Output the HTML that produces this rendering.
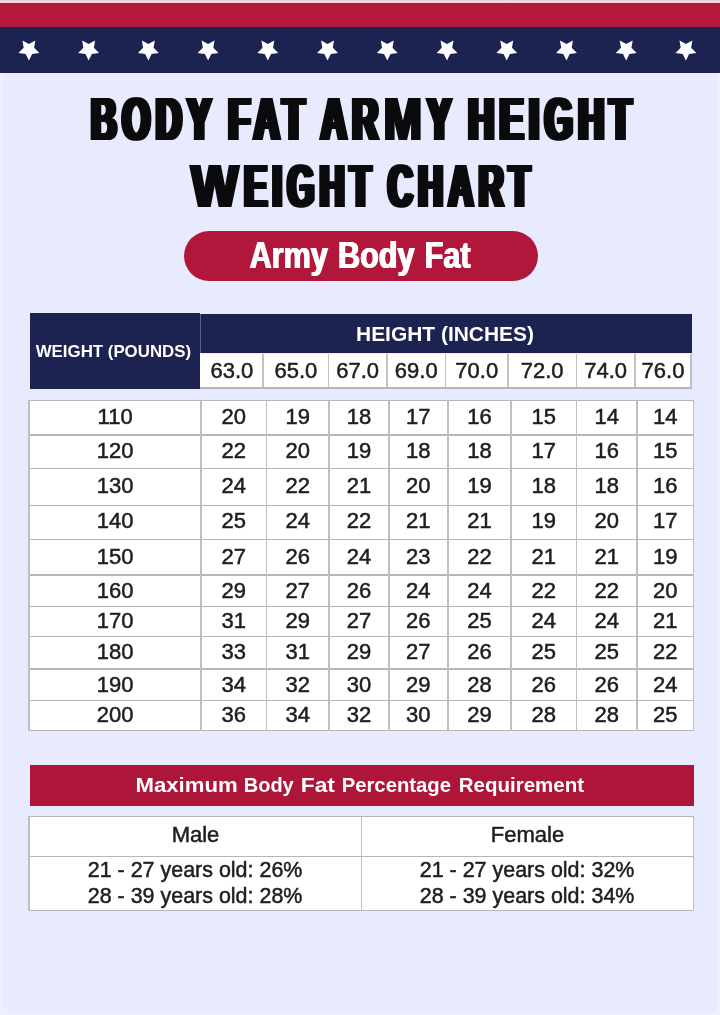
<!DOCTYPE html>
<html lang="en"><head><meta charset="utf-8"><title>Body Fat Army Height Weight Chart</title>
<style>
html,body{margin:0;padding:0}
body{width:720px;height:1015px;position:relative;overflow:hidden;background:#e8ebfe;font-family:"Liberation Sans",Arial,sans-serif;color:#222}
.abs{position:absolute}
.t{position:absolute;white-space:nowrap;line-height:1;text-align:center}
.title{position:absolute;white-space:nowrap;font-weight:bold;color:#0b0b0d;font-size:62px;line-height:1;transform-origin:0 0;letter-spacing:10px;word-spacing:-6px;text-shadow:5px 0 0 #0b0b0d,-5px 0 0 #0b0b0d,2.5px 0 0 #0b0b0d,-2.5px 0 0 #0b0b0d}
.title b{display:inline-block;font-weight:bold;transform-origin:50% 50%;text-shadow:2.6px 0 0 #0b0b0d,-2.6px 0 0 #0b0b0d,1.3px 0 0 #0b0b0d,-1.3px 0 0 #0b0b0d}
.sx{display:inline-block;transform-origin:50% 50%}
.num{font-size:22px;color:#1e1e1e;-webkit-text-stroke:0.5px #1e1e1e}
.line{position:absolute;background:#a6a6ab}
</style></head><body>

<div class="abs" style="left:0;top:73px;width:9px;height:942px;background:linear-gradient(90deg,#eef0ff 0,#eef0ff 2.5px,#eaedff 2.5px,#e9ecfe 9px)"></div>
<div class="abs" style="left:716.5px;top:73px;width:3.5px;height:942px;background:#eef0ff"></div>
<div class="abs" style="left:0;top:1010.5px;width:720px;height:4.5px;background:#edefff"></div>
<div class="abs" style="left:0;top:0;width:720px;height:3px;background:#f4d3dc"></div>
<div class="abs" style="left:0;top:3px;width:720px;height:24px;background:linear-gradient(#a81a39,#b7193d 30%,#bb183f 70%,#ab1b40)"></div>
<div class="abs" style="left:0;top:27px;width:720px;height:46px;background:#1d2351"></div>
<svg class="abs" style="left:0;top:0" width="720" height="80" viewBox="0 0 720 80"><g fill="#fff"><polygon points="28.90,60.50 25.67,53.95 18.44,52.90 23.67,47.80 22.43,40.60 28.90,44.00 35.37,40.60 34.13,47.80 39.36,52.90 32.13,53.95"/><polygon points="88.63,60.50 85.40,53.95 78.17,52.90 83.40,47.80 82.16,40.60 88.63,44.00 95.10,40.60 93.86,47.80 99.09,52.90 91.86,53.95"/><polygon points="148.36,60.50 145.13,53.95 137.90,52.90 143.13,47.80 141.89,40.60 148.36,44.00 154.83,40.60 153.59,47.80 158.82,52.90 151.59,53.95"/><polygon points="208.09,60.50 204.86,53.95 197.63,52.90 202.86,47.80 201.62,40.60 208.09,44.00 214.56,40.60 213.32,47.80 218.55,52.90 211.32,53.95"/><polygon points="267.82,60.50 264.59,53.95 257.36,52.90 262.59,47.80 261.35,40.60 267.82,44.00 274.29,40.60 273.05,47.80 278.28,52.90 271.05,53.95"/><polygon points="327.55,60.50 324.32,53.95 317.09,52.90 322.32,47.80 321.08,40.60 327.55,44.00 334.02,40.60 332.78,47.80 338.01,52.90 330.78,53.95"/><polygon points="387.28,60.50 384.05,53.95 376.82,52.90 382.05,47.80 380.81,40.60 387.28,44.00 393.75,40.60 392.51,47.80 397.74,52.90 390.51,53.95"/><polygon points="447.01,60.50 443.78,53.95 436.55,52.90 441.78,47.80 440.54,40.60 447.01,44.00 453.48,40.60 452.24,47.80 457.47,52.90 450.24,53.95"/><polygon points="506.74,60.50 503.51,53.95 496.28,52.90 501.51,47.80 500.27,40.60 506.74,44.00 513.21,40.60 511.97,47.80 517.20,52.90 509.97,53.95"/><polygon points="566.47,60.50 563.24,53.95 556.01,52.90 561.24,47.80 560.00,40.60 566.47,44.00 572.94,40.60 571.70,47.80 576.93,52.90 569.70,53.95"/><polygon points="626.20,60.50 622.97,53.95 615.74,52.90 620.97,47.80 619.73,40.60 626.20,44.00 632.67,40.60 631.43,47.80 636.66,52.90 629.43,53.95"/><polygon points="685.93,60.50 682.70,53.95 675.47,52.90 680.70,47.80 679.46,40.60 685.93,44.00 692.40,40.60 691.16,47.80 696.39,52.90 689.16,53.95"/></g></svg>
<div class="title" id="t1" style="left:90.5px;top:88px;transform:scaleX(0.574)">BODY FAT AR<b style="transform:scaleX(1.28);margin:0 5px 0 9px">M</b>Y HEIGHT</div>
<div class="title" id="t2" style="left:191px;top:154.7px;transform:scaleX(0.5517)"><b style="transform:scaleX(1.46);margin:0 12px 0 16px">W</b>EIGHT CHART</div>
<div class="abs" style="left:184.3px;top:231px;width:353.5px;height:50.2px;border-radius:25.1px;background:#b1173a"></div>
<div class="t" id="pill" style="left:182.6px;top:238.2px;width:354px;color:#fff;font-weight:bold;font-size:36.3px;text-shadow:0.8px 0 0 #fff,-0.8px 0 0 #fff"><span id="pills" class="sx" style="transform:scaleX(0.843);word-spacing:2px">Army Body Fat</span></div>
<div class="abs" style="left:29.5px;top:313.3px;width:170.5px;height:75.6px;background:#1d2351"></div>
<div class="abs" style="left:200px;top:314.2px;width:491.5px;height:39.3px;background:#1d2351"></div>
<div class="abs" style="left:199.6px;top:314.2px;width:1.2px;height:39.3px;background:#5d6288"></div>
<div class="abs" style="left:200px;top:353.5px;width:491px;height:34px;background:#fff"></div>
<div class="t" id="wp" style="left:29.5px;top:343px;width:168.5px;color:#fff;font-weight:bold;font-size:17px"><span class="sx" style="transform:scaleX(0.991)">WEIGHT (POUNDS)</span></div>
<div class="t" id="hi" style="left:201px;top:324.3px;width:488px;color:#fff;font-weight:bold;font-size:20px"><span class="sx" style="transform:scaleX(1.047)">HEIGHT (INCHES)</span></div>
<div class="t num" style="left:200.5px;top:359.6px;width:62.69999999999999px">63.0</div>
<div class="t num" style="left:263.2px;top:359.6px;width:65.30000000000001px">65.0</div>
<div class="t num" style="left:328.5px;top:359.6px;width:58.30000000000001px">67.0</div>
<div class="t num" style="left:386.8px;top:359.6px;width:58.89999999999998px">69.0</div>
<div class="t num" style="left:445.7px;top:359.6px;width:62.19999999999999px">70.0</div>
<div class="t num" style="left:507.9px;top:359.6px;width:68.5px">72.0</div>
<div class="t num" style="left:576.4px;top:359.6px;width:58.60000000000002px">74.0</div>
<div class="t num" style="left:635.0px;top:359.6px;width:56.0px">76.0</div>
<div class="line" style="left:262.45px;top:353.5px;width:1.5px;height:34.5px;background:#c2c2c6"></div>
<div class="line" style="left:327.75px;top:353.5px;width:1.5px;height:34.5px;background:#c2c2c6"></div>
<div class="line" style="left:386.05px;top:353.5px;width:1.5px;height:34.5px;background:#c2c2c6"></div>
<div class="line" style="left:444.95px;top:353.5px;width:1.5px;height:34.5px;background:#c2c2c6"></div>
<div class="line" style="left:507.15px;top:353.5px;width:1.5px;height:34.5px;background:#c2c2c6"></div>
<div class="line" style="left:575.65px;top:353.5px;width:1.5px;height:34.5px;background:#c2c2c6"></div>
<div class="line" style="left:634.25px;top:353.5px;width:1.5px;height:34.5px;background:#c2c2c6"></div>
<div class="line" style="left:200px;top:387.3px;width:491.6px;height:1.4px;background:#b4b4b9"></div>
<div class="line" style="left:690.3px;top:353.5px;width:1.3px;height:35px;background:#bfbfc4"></div>
<div class="abs" style="left:29px;top:400px;width:665px;height:331px;background:#fff"></div>
<div class="line" style="left:28.6px;top:399.8px;width:665.4px;height:1.4px;background:#b6b6ba"></div>
<div class="line" style="left:28.6px;top:434.3px;width:665.4px;height:1.4px;background:#b6b6ba"></div>
<div class="line" style="left:28.6px;top:467.8px;width:665.4px;height:1.4px;background:#b6b6ba"></div>
<div class="line" style="left:28.6px;top:504.8px;width:665.4px;height:1.4px;background:#b6b6ba"></div>
<div class="line" style="left:28.6px;top:538.8px;width:665.4px;height:1.4px;background:#b6b6ba"></div>
<div class="line" style="left:28.6px;top:574.3px;width:665.4px;height:1.4px;background:#b6b6ba"></div>
<div class="line" style="left:28.6px;top:605.8px;width:665.4px;height:1.4px;background:#b6b6ba"></div>
<div class="line" style="left:28.6px;top:635.8px;width:665.4px;height:1.4px;background:#b6b6ba"></div>
<div class="line" style="left:28.6px;top:668.3px;width:665.4px;height:1.4px;background:#b6b6ba"></div>
<div class="line" style="left:28.6px;top:699.8px;width:665.4px;height:1.4px;background:#b6b6ba"></div>
<div class="line" style="left:28.6px;top:730.0999999999999px;width:665.4px;height:1.4px;background:#b6b6ba"></div>
<div class="line" style="left:28.3px;top:400px;width:1.6px;height:331px;background:#c0c0c4"></div>
<div class="line" style="left:200.29999999999998px;top:400px;width:1.6px;height:331px;background:#c0c0c4"></div>
<div class="line" style="left:265.5px;top:400px;width:1.6px;height:331px;background:#c0c0c4"></div>
<div class="line" style="left:328.3px;top:400px;width:1.6px;height:331px;background:#c0c0c4"></div>
<div class="line" style="left:388.09999999999997px;top:400px;width:1.6px;height:331px;background:#c0c0c4"></div>
<div class="line" style="left:447.0px;top:400px;width:1.6px;height:331px;background:#c0c0c4"></div>
<div class="line" style="left:510.2px;top:400px;width:1.6px;height:331px;background:#c0c0c4"></div>
<div class="line" style="left:575.6px;top:400px;width:1.6px;height:331px;background:#c0c0c4"></div>
<div class="line" style="left:636.4000000000001px;top:400px;width:1.6px;height:331px;background:#c0c0c4"></div>
<div class="line" style="left:692.7px;top:400px;width:1.6px;height:331px;background:#c0c0c4"></div>
<div class="t num" style="left:29.1px;top:406.0px;width:172.0px">110</div>
<div class="t num" style="left:201.1px;top:406.0px;width:65.20000000000002px">20</div>
<div class="t num" style="left:266.3px;top:406.0px;width:62.80000000000001px">19</div>
<div class="t num" style="left:329.1px;top:406.0px;width:59.799999999999955px">18</div>
<div class="t num" style="left:388.9px;top:406.0px;width:58.900000000000034px">17</div>
<div class="t num" style="left:447.8px;top:406.0px;width:63.19999999999999px">16</div>
<div class="t num" style="left:511.0px;top:406.0px;width:65.39999999999998px">15</div>
<div class="t num" style="left:576.4px;top:406.0px;width:60.80000000000007px">14</div>
<div class="t num" style="left:637.2px;top:406.0px;width:56.299999999999955px">14</div>
<div class="t num" style="left:29.1px;top:440.0px;width:172.0px">120</div>
<div class="t num" style="left:201.1px;top:440.0px;width:65.20000000000002px">22</div>
<div class="t num" style="left:266.3px;top:440.0px;width:62.80000000000001px">20</div>
<div class="t num" style="left:329.1px;top:440.0px;width:59.799999999999955px">19</div>
<div class="t num" style="left:388.9px;top:440.0px;width:58.900000000000034px">18</div>
<div class="t num" style="left:447.8px;top:440.0px;width:63.19999999999999px">18</div>
<div class="t num" style="left:511.0px;top:440.0px;width:65.39999999999998px">17</div>
<div class="t num" style="left:576.4px;top:440.0px;width:60.80000000000007px">16</div>
<div class="t num" style="left:637.2px;top:440.0px;width:56.299999999999955px">15</div>
<div class="t num" style="left:29.1px;top:475.1px;width:172.0px">130</div>
<div class="t num" style="left:201.1px;top:475.1px;width:65.20000000000002px">24</div>
<div class="t num" style="left:266.3px;top:475.1px;width:62.80000000000001px">22</div>
<div class="t num" style="left:329.1px;top:475.1px;width:59.799999999999955px">21</div>
<div class="t num" style="left:388.9px;top:475.1px;width:58.900000000000034px">20</div>
<div class="t num" style="left:447.8px;top:475.1px;width:63.19999999999999px">19</div>
<div class="t num" style="left:511.0px;top:475.1px;width:65.39999999999998px">18</div>
<div class="t num" style="left:576.4px;top:475.1px;width:60.80000000000007px">18</div>
<div class="t num" style="left:637.2px;top:475.1px;width:56.299999999999955px">16</div>
<div class="t num" style="left:29.1px;top:510.0px;width:172.0px">140</div>
<div class="t num" style="left:201.1px;top:510.0px;width:65.20000000000002px">25</div>
<div class="t num" style="left:266.3px;top:510.0px;width:62.80000000000001px">24</div>
<div class="t num" style="left:329.1px;top:510.0px;width:59.799999999999955px">22</div>
<div class="t num" style="left:388.9px;top:510.0px;width:58.900000000000034px">21</div>
<div class="t num" style="left:447.8px;top:510.0px;width:63.19999999999999px">21</div>
<div class="t num" style="left:511.0px;top:510.0px;width:65.39999999999998px">19</div>
<div class="t num" style="left:576.4px;top:510.0px;width:60.80000000000007px">20</div>
<div class="t num" style="left:637.2px;top:510.0px;width:56.299999999999955px">17</div>
<div class="t num" style="left:29.1px;top:545.5px;width:172.0px">150</div>
<div class="t num" style="left:201.1px;top:545.5px;width:65.20000000000002px">27</div>
<div class="t num" style="left:266.3px;top:545.5px;width:62.80000000000001px">26</div>
<div class="t num" style="left:329.1px;top:545.5px;width:59.799999999999955px">24</div>
<div class="t num" style="left:388.9px;top:545.5px;width:58.900000000000034px">23</div>
<div class="t num" style="left:447.8px;top:545.5px;width:63.19999999999999px">22</div>
<div class="t num" style="left:511.0px;top:545.5px;width:65.39999999999998px">21</div>
<div class="t num" style="left:576.4px;top:545.5px;width:60.80000000000007px">21</div>
<div class="t num" style="left:637.2px;top:545.5px;width:56.299999999999955px">19</div>
<div class="t num" style="left:29.1px;top:579.5px;width:172.0px">160</div>
<div class="t num" style="left:201.1px;top:579.5px;width:65.20000000000002px">29</div>
<div class="t num" style="left:266.3px;top:579.5px;width:62.80000000000001px">27</div>
<div class="t num" style="left:329.1px;top:579.5px;width:59.799999999999955px">26</div>
<div class="t num" style="left:388.9px;top:579.5px;width:58.900000000000034px">24</div>
<div class="t num" style="left:447.8px;top:579.5px;width:63.19999999999999px">24</div>
<div class="t num" style="left:511.0px;top:579.5px;width:65.39999999999998px">22</div>
<div class="t num" style="left:576.4px;top:579.5px;width:60.80000000000007px">22</div>
<div class="t num" style="left:637.2px;top:579.5px;width:56.299999999999955px">20</div>
<div class="t num" style="left:29.1px;top:610.0px;width:172.0px">170</div>
<div class="t num" style="left:201.1px;top:610.0px;width:65.20000000000002px">31</div>
<div class="t num" style="left:266.3px;top:610.0px;width:62.80000000000001px">29</div>
<div class="t num" style="left:329.1px;top:610.0px;width:59.799999999999955px">27</div>
<div class="t num" style="left:388.9px;top:610.0px;width:58.900000000000034px">26</div>
<div class="t num" style="left:447.8px;top:610.0px;width:63.19999999999999px">25</div>
<div class="t num" style="left:511.0px;top:610.0px;width:65.39999999999998px">24</div>
<div class="t num" style="left:576.4px;top:610.0px;width:60.80000000000007px">24</div>
<div class="t num" style="left:637.2px;top:610.0px;width:56.299999999999955px">21</div>
<div class="t num" style="left:29.1px;top:640.5px;width:172.0px">180</div>
<div class="t num" style="left:201.1px;top:640.5px;width:65.20000000000002px">33</div>
<div class="t num" style="left:266.3px;top:640.5px;width:62.80000000000001px">31</div>
<div class="t num" style="left:329.1px;top:640.5px;width:59.799999999999955px">29</div>
<div class="t num" style="left:388.9px;top:640.5px;width:58.900000000000034px">27</div>
<div class="t num" style="left:447.8px;top:640.5px;width:63.19999999999999px">26</div>
<div class="t num" style="left:511.0px;top:640.5px;width:65.39999999999998px">25</div>
<div class="t num" style="left:576.4px;top:640.5px;width:60.80000000000007px">25</div>
<div class="t num" style="left:637.2px;top:640.5px;width:56.299999999999955px">22</div>
<div class="t num" style="left:29.1px;top:673.9px;width:172.0px">190</div>
<div class="t num" style="left:201.1px;top:673.9px;width:65.20000000000002px">34</div>
<div class="t num" style="left:266.3px;top:673.9px;width:62.80000000000001px">32</div>
<div class="t num" style="left:329.1px;top:673.9px;width:59.799999999999955px">30</div>
<div class="t num" style="left:388.9px;top:673.9px;width:58.900000000000034px">29</div>
<div class="t num" style="left:447.8px;top:673.9px;width:63.19999999999999px">28</div>
<div class="t num" style="left:511.0px;top:673.9px;width:65.39999999999998px">26</div>
<div class="t num" style="left:576.4px;top:673.9px;width:60.80000000000007px">26</div>
<div class="t num" style="left:637.2px;top:673.9px;width:56.299999999999955px">24</div>
<div class="t num" style="left:29.1px;top:703.9px;width:172.0px">200</div>
<div class="t num" style="left:201.1px;top:703.9px;width:65.20000000000002px">36</div>
<div class="t num" style="left:266.3px;top:703.9px;width:62.80000000000001px">34</div>
<div class="t num" style="left:329.1px;top:703.9px;width:59.799999999999955px">32</div>
<div class="t num" style="left:388.9px;top:703.9px;width:58.900000000000034px">30</div>
<div class="t num" style="left:447.8px;top:703.9px;width:63.19999999999999px">29</div>
<div class="t num" style="left:511.0px;top:703.9px;width:65.39999999999998px">28</div>
<div class="t num" style="left:576.4px;top:703.9px;width:60.80000000000007px">28</div>
<div class="t num" style="left:637.2px;top:703.9px;width:56.299999999999955px">25</div>
<div class="abs" style="left:29.5px;top:764.7px;width:664px;height:41px;background:#ad1639"></div>
<div id="mx" style="color:#fff;font-weight:bold;font-size:19.8px">
<div class="t" style="left:86.65px;top:775.9px;width:200px"><span class="sx" style="transform:scaleX(1.12)">Maximum</span></div> 
<div class="t" style="left:169.14999999999998px;top:775.9px;width:200px"><span class="sx" style="transform:scaleX(1.01)">Body</span></div> 
<div class="t" style="left:217.85000000000002px;top:775.9px;width:200px"><span class="sx" style="transform:scaleX(1.149)">Fat</span></div> 
<div class="t" style="left:296px;top:775.9px;width:200px"><span class="sx" style="transform:scaleX(1.025)">Percentage</span></div> 
<div class="t" style="left:421.65px;top:775.9px;width:200px"><span class="sx" style="transform:scaleX(1.036)">Requirement</span></div> 
</div>
<div class="abs" style="left:29px;top:816px;width:665px;height:95px;background:#fff"></div>
<div class="line" style="left:28.6px;top:815.8px;width:665.4px;height:1.4px;background:#b6b6ba"></div>
<div class="line" style="left:28.6px;top:855.8px;width:665.4px;height:1.4px;background:#b6b6ba"></div>
<div class="line" style="left:28.6px;top:909.8px;width:665.4px;height:1.4px;background:#b6b6ba"></div>
<div class="line" style="left:28.3px;top:816px;width:1.6px;height:95px;background:#c0c0c4"></div>
<div class="line" style="left:360.59999999999997px;top:816px;width:1.6px;height:95px;background:#c0c0c4"></div>
<div class="line" style="left:692.7px;top:816px;width:1.6px;height:95px;background:#c0c0c4"></div>
<div class="t num" style="left:30px;top:824px;width:331px"><span class="sx" style="transform:scaleX(1.0)">Male</span></div>
<div class="t num" style="left:362px;top:824px;width:331px"><span class="sx" style="transform:scaleX(1.0)">Female</span></div>
<div class="t num" style="left:30px;top:859.1px;width:331px"><span class="sx" style="transform:scaleX(0.975)">21 - 27 years old: 26%</span></div>
<div class="t num" style="left:30px;top:885.1px;width:331px"><span class="sx" style="transform:scaleX(0.975)">28 - 39 years old: 28%</span></div>
<div class="t num" style="left:362px;top:859.1px;width:331px"><span class="sx" style="transform:scaleX(0.975)">21 - 27 years old: 32%</span></div>
<div class="t num" style="left:362px;top:885.1px;width:331px"><span class="sx" style="transform:scaleX(0.975)">28 - 39 years old: 34%</span></div>
</body></html>
